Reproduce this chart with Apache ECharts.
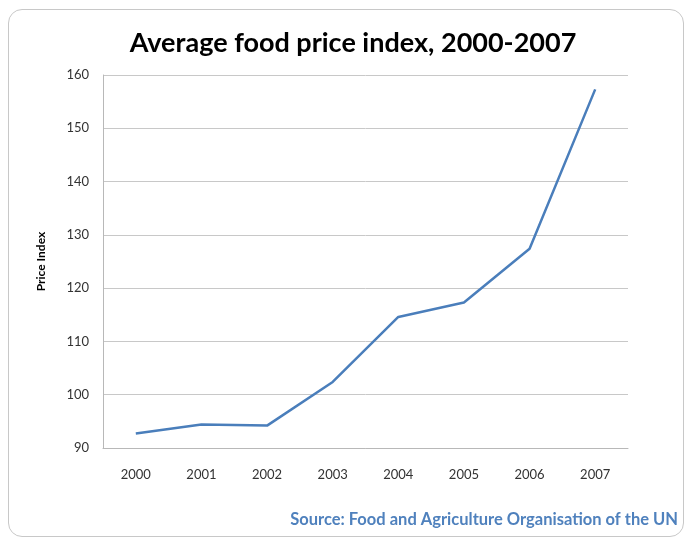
<!DOCTYPE html>
<html>
<head>
<meta charset="utf-8">
<script src="https://cdn.jsdelivr.net/npm/echarts@6/dist/echarts.min.js"></script>
<style>
  html, body { margin: 0; padding: 0; background: #fff; }
  #frame { position: absolute; left: 8px; top: 9px; width: 674px; height: 526px;
           border: 1px solid #c8c8c8; border-radius: 14px; }
  #chart { position: absolute; left: 0; top: 0; width: 684px; height: 540px; }
</style>
</head>
<body>
<div id="frame"></div>
<div id="chart"></div>
<script>
const titleText = 'Average food price index, 2000-2007';
const sourceText = 'Source: Food and Agriculture Organisation of the UN';
const yAxisName = 'Price Index';
const years = ['2000', '2001', '2002', '2003', '2004', '2005', '2006', '2007'];
const priceIndex = [92.7, 94.4, 94.2, 102.4, 114.6, 117.3, 127.4, 157.3];

const chart = echarts.init(document.getElementById('chart'));
chart.setOption({
  backgroundColor: 'transparent',
  animation: false,
  title: [{
    text: titleText,
    left: 348, top: 25, textAlign: 'center',
    textStyle: { fontFamily: 'Lato', fontSize: 27, fontWeight: 'bold', color: '#000' }
  }, {
    text: sourceText,
    right: 6, top: 511, padding: 0,
    textStyle: { fontFamily: 'Lato', fontSize: 16.5, fontWeight: 'bold', color: '#4f81bd' }
  }],
  grid: { left: 103, right: 56, top: 75, bottom: 92 },
  xAxis: {
    type: 'category',
    data: years,
    boundaryGap: true,
    axisLine: { lineStyle: { color: '#b8b8b8', width: 1 } },
    axisTick: { show: false },
    axisLabel: { fontFamily: 'Lato', fontSize: 13, color: '#333', margin: 20 }
  },
  yAxis: {
    type: 'value',
    min: 90, max: 160, interval: 10,
    name: yAxisName,
    nameLocation: 'middle',
    nameGap: 56,
    nameTextStyle: { fontFamily: 'Lato', fontSize: 12, fontWeight: 'bold', color: '#000' },
    axisLine: { show: true, lineStyle: { color: '#b8b8b8', width: 1 } },
    axisTick: { show: false },
    splitLine: { lineStyle: { color: '#c8c8c8', width: 1 } },
    axisLabel: { fontFamily: 'Lato', fontSize: 13, color: '#333', margin: 14 }
  },
  series: [{
    type: 'line',
    data: priceIndex,
    showSymbol: false,
    symbol: 'none',
    lineStyle: { color: '#4a7ebb', width: 2.5 }
  }]
});
</script>
</body>
</html>
